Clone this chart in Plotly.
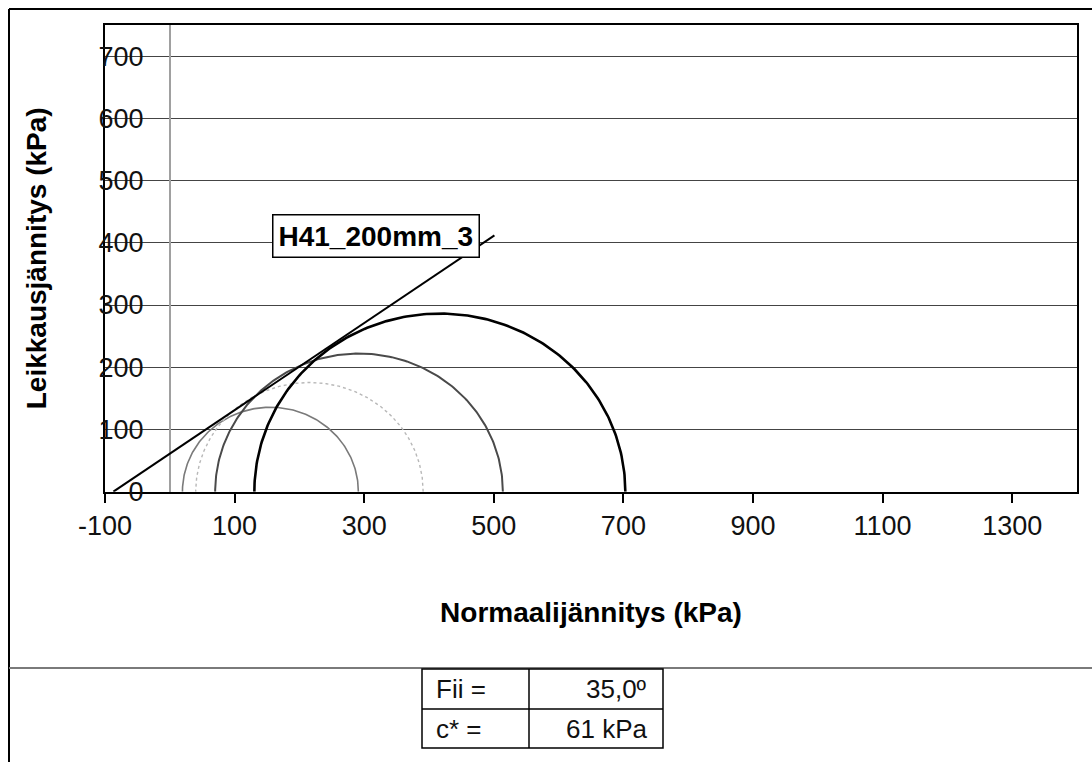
import numpy as np
import plotly.graph_objects as go

# Mohr circles: minor and major principal stresses (kPa)
sigma3 = [19.5, 40.0, 70.0, 130.5]
sigma1 = [291.0, 391.0, 514.0, 703.0]
circle_colors = ["#7a7a7a", "#b8b8b8", "#4a4a4a", "#000000"]
circle_widths = [1.6, 1.4, 2.0, 2.6]
circle_dashes = ["solid", "dot", "solid", "solid"]

# Mohr-Coulomb envelope parameters
fii_deg = [35.0]
c_kpa = [61]
envelope_sigma = [-87.1, 501.0]
series_name = "H41_200mm_3"

# axis ticks
x_ticks = [-100, 100, 300, 500, 700, 900, 1100, 1300]
x_tick_text = ["-100", "100", "300", "500", "700", "900", "1100", "1300"]
y_ticks = [0, 100, 200, 300, 400, 500, 600, 700]

W, H = 1092, 762
FONT = "Arial, Liberation Sans, sans-serif"

fig = go.Figure()

for s3, s1, col, lw, dash in zip(sigma3, sigma1, circle_colors, circle_widths, circle_dashes):
    center = (s1 + s3) / 2.0
    radius = (s1 - s3) / 2.0
    t = np.linspace(0, np.pi, 200)
    fig.add_trace(go.Scatter(
        x=center + radius * np.cos(t), y=radius * np.sin(t),
        mode="lines", line=dict(color=col, width=lw, dash=dash),
        showlegend=False, hoverinfo="skip"))

tan_phi = np.tan(np.radians(fii_deg[0]))
env_x = np.array(envelope_sigma)
env_y = c_kpa[0] + tan_phi * env_x
fig.add_trace(go.Scatter(x=env_x, y=env_y, mode="lines",
                         line=dict(color="black", width=2),
                         name=series_name, showlegend=False, hoverinfo="skip"))

# series label at the end of the envelope
fig.add_annotation(x=env_x[-1], y=env_y[-1], xref="x", yref="y",
                   text="<b>" + series_name + "</b>", showarrow=False,
                   xanchor="right", yanchor="middle", xshift=-14, yshift=-1,
                   font=dict(family=FONT, size=28, color="black"),
                   bgcolor="white", bordercolor="black", borderwidth=1.5, borderpad=5)

# plot area in pixels
px_left, px_right, px_top, px_bottom = 105, 1077, 25, 491.7

fig.update_layout(
    width=W, height=H,
    margin=dict(l=0, r=0, t=0, b=0),
    paper_bgcolor="white", plot_bgcolor="white",
    showlegend=False,
    xaxis=dict(
        domain=[px_left / W, px_right / W],
        range=[-100, 1400], tickvals=x_ticks, ticktext=x_tick_text,
        ticks="outside", ticklen=9, tickwidth=1.5, tickcolor="black",
        showline=True, linecolor="black", linewidth=2, mirror=True,
        showgrid=False,
        zeroline=True, zerolinecolor="#a0a0a0", zerolinewidth=2,
        tickfont=dict(family=FONT, size=27, color="#111"),
        title=dict(text="<b>Normaalijännitys (kPa)</b>", standoff=62,
                   font=dict(family=FONT, size=28, color="black")),
        automargin=False, fixedrange=True,
    ),
    yaxis=dict(
        domain=[(H - px_bottom) / H, (H - px_top) / H],
        range=[0, 750], tickvals=y_ticks,
        ticks="", ticklabelstandoff=-46,
        showline=True, linecolor="black", linewidth=2, mirror=True,
        showgrid=True, gridcolor="#444444", gridwidth=1,
        zeroline=False,
        tickfont=dict(family=FONT, size=27, color="#111"),
        title=dict(text="<b>Leikkausjännitys (kPa)</b>", standoff=44,
                   font=dict(family=FONT, size=28, color="black")),
        automargin=False, fixedrange=True,
    ),
)

def px(x):
    return x / W

def py(y):
    return 1 - y / H

shapes = []
# outer frame and separator
shapes.append(dict(type="line", xref="paper", yref="paper", x0=px(9), x1=1.0, y0=py(9), y1=py(9),
                   line=dict(color="black", width=2)))
shapes.append(dict(type="line", xref="paper", yref="paper", x0=px(9), x1=px(9), y0=0, y1=py(9),
                   line=dict(color="black", width=2)))
shapes.append(dict(type="line", xref="paper", yref="paper", x0=px(9), x1=1.0, y0=py(668), y1=py(668),
                   line=dict(color="#7a7a7a", width=2)))

# parameter table
tl, tm, tr = 422, 529, 663
tt, tmid, tb = 669, 709, 748
shapes.append(dict(type="rect", xref="paper", yref="paper", x0=px(tl), x1=px(tr), y0=py(tb), y1=py(tt),
                   line=dict(color="black", width=1.5)))
shapes.append(dict(type="line", xref="paper", yref="paper", x0=px(tm), x1=px(tm), y0=py(tb), y1=py(tt),
                   line=dict(color="black", width=1.5)))
shapes.append(dict(type="line", xref="paper", yref="paper", x0=px(tl), x1=px(tr), y0=py(tmid), y1=py(tmid),
                   line=dict(color="black", width=1.5)))
fig.update_layout(shapes=shapes)

table_font = dict(family=FONT, size=26, color="#111")
rows = [("Fii =", f"{fii_deg[0]:.1f}".replace(".", ",") + "º"),
        ("c* =", f"{c_kpa[0]} kPa")]
row_centers = [(tt + tmid) / 2, (tmid + tb) / 2]
for (lab, val), yc in zip(rows, row_centers):
    fig.add_annotation(x=px(tl + 12), y=py(yc), xref="paper", yref="paper", text=lab,
                       showarrow=False, xanchor="left", yanchor="middle", font=table_font)
    fig.add_annotation(x=px(tr - 14), y=py(yc), xref="paper", yref="paper", text=val,
                       showarrow=False, xanchor="right", yanchor="middle", font=table_font)

fig.write_html("out.html")
